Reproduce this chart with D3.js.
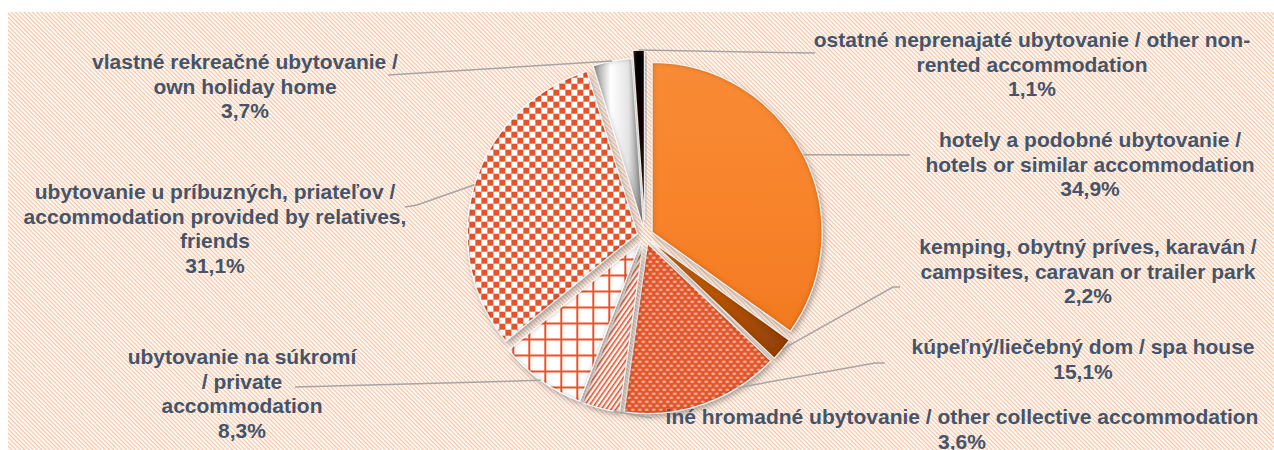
<!DOCTYPE html>
<html>
<head>
<meta charset="utf-8">
<title>Ubytovanie</title>
<script src="https://d3js.org/d3.v7.min.js"></script>
<style>
  body { margin: 0; background: #fff; }
  text { font-family: "Liberation Sans", Arial, sans-serif; font-weight: bold; fill: #44546a; }
</style>
</head>
<body>
<svg width="1274" height="450"></svg>
<script>
// categories (label lines) and values, clockwise from 12 o'clock
const categories = [
  ["hotely a podobné ubytovanie /", "hotels or similar accommodation"],
  ["kemping, obytný príves, karaván /", "campsites, caravan or trailer park"],
  ["kúpeľný/liečebný dom / spa house"],
  ["iné hromadné ubytovanie / other collective accommodation"],
  ["ubytovanie na súkromí", "/ private", "accommodation"],
  ["ubytovanie u príbuzných, priateľov /", "accommodation provided by relatives,", "friends"],
  ["vlastné rekreačné ubytovanie /", "own holiday home"],
  ["ostatné neprenajaté ubytovanie / other non-", "rented accommodation"]
];
const values = [34.9, 2.2, 15.1, 3.6, 8.3, 31.1, 3.7, 1.1];
const fills = ["url(#gHotel)", "url(#gCamp)", "url(#pSpa)", "url(#pStripe)",
               "url(#pGrid)", "url(#pCheck)", "url(#gSilver)", "url(#gBlack)"];

// label layout: centre x, first line centre y, leader points from label side
const labelLayout = [
  { x: 1090, y: 140, leader: [[910, 155]] },
  { x: 1088, y: 247, leader: [[900, 287], [893, 287]] },
  { x: 1083, y: 347, leader: [[885, 363], [875, 363]], at: 148 },
  { x: 962, y: 417, leader: [[652, 418]], at: 190 },
  { x: 242, y: 357, leader: [[295, 387]] },
  { x: 215, y: 192, leader: [[405, 207], [417, 205]] },
  { x: 245, y: 62, leader: [[388, 75]] },
  { x: 1032, y: 40, leader: [[815, 53]] }
];
const explode = [8, 8, 8, 8, 8, 8, 8, 16];

const W = 1274, H = 450;
const cx = 645, cy = 236, R = 170;
const lineH = 24.5;
const fmt = v => d3.format(".1f")(v).replace(".", ",") + "%";

const svg = d3.select("svg");
const defs = svg.append("defs");

// background hatch
const bg = defs.append("pattern").attr("id", "pBg").attr("patternUnits", "userSpaceOnUse")
  .attr("width", 8).attr("height", 3).attr("patternTransform", "rotate(45)");
bg.append("rect").attr("width", 8).attr("height", 3).attr("fill", "#fff");
bg.append("rect").attr("width", 8).attr("height", 1.25).attr("fill", "#f7c3a2");

// checkerboard
const pc = defs.append("pattern").attr("id", "pCheck").attr("patternUnits", "userSpaceOnUse")
  .attr("width", 12).attr("height", 12);
pc.append("rect").attr("width", 12).attr("height", 12).attr("fill", "#fff");
pc.append("rect").attr("width", 6).attr("height", 6).attr("fill", "#e8532a");
pc.append("rect").attr("x", 6).attr("y", 6).attr("width", 6).attr("height", 6).attr("fill", "#e8532a");

// large grid
const pg = defs.append("pattern").attr("id", "pGrid").attr("patternUnits", "userSpaceOnUse")
  .attr("width", 16).attr("height", 16);
pg.append("rect").attr("width", 16).attr("height", 16).attr("fill", "#fff");
pg.append("rect").attr("width", 2).attr("height", 16).attr("fill", "#e8532a");
pg.append("rect").attr("width", 16).attr("height", 2).attr("fill", "#e8532a");

// diagonal stripes
const ps = defs.append("pattern").attr("id", "pStripe").attr("patternUnits", "userSpaceOnUse")
  .attr("width", 8).attr("height", 4).attr("patternTransform", "rotate(-55)");
ps.append("rect").attr("width", 8).attr("height", 4).attr("fill", "#fff");
ps.append("rect").attr("width", 8).attr("height", 1.6).attr("fill", "#e8532a");

// small dashes (spa)
const pd = defs.append("pattern").attr("id", "pSpa").attr("patternUnits", "userSpaceOnUse")
  .attr("width", 7).attr("height", 8);
pd.append("rect").attr("width", 7).attr("height", 8).attr("fill", "#e5552c");
pd.append("rect").attr("x", 1).attr("y", 1.5).attr("width", 3.2).attr("height", 1.6).attr("fill", "#fde3cf");
pd.append("rect").attr("x", 4.5).attr("y", 5.5).attr("width", 3.2).attr("height", 1.6).attr("fill", "#fde3cf");
pd.append("rect").attr("x", -2.5).attr("y", 5.5).attr("width", 3.2).attr("height", 1.6).attr("fill", "#fde3cf");

function linGrad(id, stops, x2, y2) {
  const g = defs.append("linearGradient").attr("id", id)
    .attr("x1", 0).attr("y1", 0).attr("x2", x2).attr("y2", y2);
  stops.forEach(s => g.append("stop").attr("offset", s[0]).attr("stop-color", s[1]));
}
linGrad("gHotel", [[0, "#f98b35"], [0.6, "#f7822a"], [1, "#f27a22"]], 0, 1);
linGrad("gCamp", [[0, "#d06a1e"], [0.5, "#b3530d"], [1, "#8f3f08"]], 1, 0);
linGrad("gSilver", [[0, "#8c8c8c"], [0.35, "#ffffff"], [0.7, "#e4e4e4"], [1, "#7a7a7a"]], 1, 0);
linGrad("gBlack", [[0, "#333"], [0.4, "#000"], [1, "#111"]], 1, 0);

// drop shadow + inner bevel
const f = defs.append("filter").attr("id", "fx")
  .attr("x", "-20%").attr("y", "-20%").attr("width", "140%").attr("height", "140%");
f.append("feGaussianBlur").attr("in", "SourceAlpha").attr("stdDeviation", 3).attr("result", "b");
f.append("feOffset").attr("in", "b").attr("dx", 2).attr("dy", 3).attr("result", "ob");
f.append("feFlood").attr("flood-color", "#555").attr("flood-opacity", 0.55);
f.append("feComposite").attr("in2", "ob").attr("operator", "in").attr("result", "shadow");
f.append("feGaussianBlur").attr("in", "SourceAlpha").attr("stdDeviation", 2.5).attr("result", "b2");
f.append("feComposite").attr("in", "SourceAlpha").attr("in2", "b2").attr("operator", "arithmetic")
  .attr("k2", 1).attr("k3", -1).attr("result", "edge");
f.append("feFlood").attr("flood-color", "#3a1a00").attr("flood-opacity", 0.6);
f.append("feComposite").attr("in2", "edge").attr("operator", "in").attr("result", "edgeShade");
const fm = f.append("feMerge");
["shadow", "SourceGraphic", "edgeShade"].forEach(n => fm.append("feMergeNode").attr("in", n));

// background
svg.append("rect").attr("x", 8).attr("y", 12).attr("width", W - 8).attr("height", H - 12)
  .attr("fill", "url(#pBg)");

const pie = d3.pie().sort(null).value(d => d)(values);
const arc = d3.arc().innerRadius(0).outerRadius(R);
const rim = d3.arc().innerRadius(R).outerRadius(R);

const offset = (d, i) => {
  const a = (d.startAngle + d.endAngle) / 2;
  return [explode[i] * Math.sin(a), -explode[i] * Math.cos(a)];
};

const g = svg.append("g").attr("transform", `translate(${cx},${cy})`);
const slices = g.selectAll("g.slice").data(pie).join("g").attr("class", "slice")
  .attr("transform", (d, i) => `translate(${offset(d, i)})`);
slices.append("path").attr("d", arc).attr("fill", (d, i) => fills[i]).attr("filter", "url(#fx)");
slices.append("path").attr("d", arc).attr("fill", "none")
  .attr("stroke", "#fff").attr("stroke-opacity", 0.85).attr("stroke-width", 1.3);

// leader lines
pie.forEach((d, i) => {
  const L = labelLayout[i];
  const o = offset(d, i);
  let p;
  if (L.at !== undefined) {
    const a = L.at * Math.PI / 180;
    p = [R * Math.sin(a), -R * Math.cos(a)];
  } else {
    p = rim.centroid(d);
  }
  const start = [cx + o[0] + p[0], cy + o[1] + p[1]];
  const pts = L.leader.concat([start]);
  svg.append("path").attr("d", d3.line()(pts))
    .attr("fill", "none").attr("stroke", "#a5a5a5").attr("stroke-width", 1.5);
});

// labels
pie.forEach((d, i) => {
  const L = labelLayout[i];
  const lines = categories[i].concat([fmt(values[i])]);
  const t = svg.append("text").attr("text-anchor", "middle").style("font-size", "21px");
  lines.forEach((s, k) => {
    t.append("tspan").attr("x", L.x).attr("y", L.y + k * lineH).attr("dy", "0.35em").text(s);
  });
});
</script>
</body>
</html>
